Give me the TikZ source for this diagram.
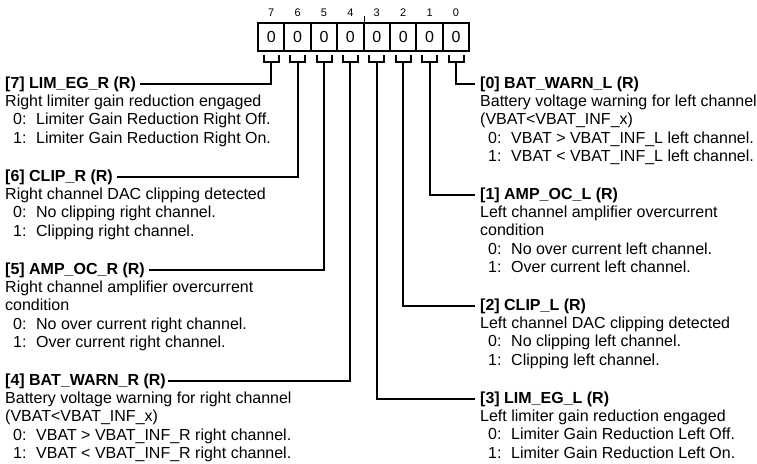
\documentclass[tikz,border=0pt]{standalone}
\usepackage{fontspec}
\setmainfont{Liberation Sans}
\usetikzlibrary{positioning}
\newcommand{\bitopt}[2]{\hspace*{8pt}\makebox[23pt][l]{#1:}#2}

\begin{document}
\begin{tikzpicture}[x=1pt, y=-1pt,
      wire/.style={line width=2pt},
      cell/.style={draw, line width=2pt, minimum width=26.4pt, minimum height=28pt, inner sep=0pt, font=\fontsize{16}{18}\selectfont},
      bitno/.style={inner sep=0pt, font=\fontsize{11}{12}\selectfont},
      head/.style={anchor=base west, inner sep=0pt, font=\fontsize{16}{18.3}\selectfont\bfseries},
      desc/.style={inner sep=0pt, align=left, font=\fontsize{16}{18.3}\selectfont}]
      \useasboundingbox (0,0) rectangle (757,463);
      % register cells, bit numbers and brackets
      \foreach \b in {7,...,0} {
        \pgfmathsetmacro{\cx}{271.2+26.4*(7-\b)}
        \node[cell]  (c\b) at (\cx,37) {0};
        \node[bitno] (n\b) at (\cx,13) {\b};
        \coordinate (s\b) at (\cx,62);
        \draw[wire] (\cx-7.5,55) -- (\cx-7.5,62) -- (\cx+7.5,62) -- (\cx+7.5,55);
      }
      \draw[line width=1.2pt] (c4.north east) -- ++(0,-6);
      % left column
      \node[head] (h7) at (5,88)  {[7] LIM\_EG\_R (R)};
      \node[desc, below right=5.5pt and 0pt of h7.base west] (d7) {\strut Right limiter gain reduction engaged\\
        \bitopt{0}{Limiter Gain Reduction Right Off.}\\ \bitopt{1}{Limiter Gain Reduction Right On.}};
      \node[head] (h6) at (5,181) {[6] CLIP\_R (R)};
      \node[desc, below right=5.5pt and 0pt of h6.base west] (d6) {\strut Right channel DAC clipping detected\\
        \bitopt{0}{No clipping right channel.}\\ \bitopt{1}{Clipping right channel.}};
      \node[head] (h5) at (5,274) {[5] AMP\_OC\_R (R)};
      \node[desc, below right=5.5pt and 0pt of h5.base west] (d5) {\strut Right channel amplifier overcurrent\\ condition\\
        \bitopt{0}{No over current right channel.}\\ \bitopt{1}{Over current right channel.}};
      \node[head] (h4) at (5,385) {[4] BAT\_WARN\_R (R)};
      \node[desc, below right=5.5pt and 0pt of h4.base west] (d4) {\strut Battery voltage warning for right channel\\ (VBAT<VBAT\_INF\_x)\\
        \bitopt{0}{VBAT > VBAT\_INF\_R right channel.}\\ \bitopt{1}{VBAT < VBAT\_INF\_R right channel.}};
      % right column
      \node[head] (h0) at (480,88)  {[0] BAT\_WARN\_L (R)};
      \node[desc, below right=5.5pt and 0pt of h0.base west] (d0) {\strut Battery voltage warning for left channel\\ (VBAT<VBAT\_INF\_x)\\
        \bitopt{0}{VBAT > VBAT\_INF\_L left channel.}\\ \bitopt{1}{VBAT < VBAT\_INF\_L left channel.}};
      \node[head] (h1) at (480,199) {[1] AMP\_OC\_L (R)};
      \node[desc, below right=5.5pt and 0pt of h1.base west] (d1) {\strut Left channel amplifier overcurrent\\ condition\\
        \bitopt{0}{No over current left channel.}\\ \bitopt{1}{Over current left channel.}};
      \node[head] (h2) at (480,310) {[2] CLIP\_L (R)};
      \node[desc, below right=5.5pt and 0pt of h2.base west] (d2) {\strut Left channel DAC clipping detected\\
        \bitopt{0}{No clipping left channel.}\\ \bitopt{1}{Clipping left channel.}};
      \node[head] (h3) at (480,403) {[3] LIM\_EG\_L (R)};
      \node[desc, below right=5.5pt and 0pt of h3.base west] (d3) {\strut Left limiter gain reduction engaged\\
        \bitopt{0}{Limiter Gain Reduction Left Off.}\\ \bitopt{1}{Limiter Gain Reduction Left On.}};
      % connectors
      \draw[wire, shorten >=4pt] (s7) |- (h7.east);
      \draw[wire, shorten >=4pt] (s6) |- (h6.east);
      \draw[wire, shorten >=4pt] (s5) |- (h5.east);
      \draw[wire, shorten >=2pt] (s4) |- (h4.east);
      \draw[wire, shorten >=5pt] (s3) |- (h3.west);
      \draw[wire, shorten >=5pt] (s2) |- (h2.west);
      \draw[wire, shorten >=5pt] (s1) |- (h1.west);
      \draw[wire, shorten >=5pt] (s0) |- (h0.west);
\end{tikzpicture}
\end{document}
